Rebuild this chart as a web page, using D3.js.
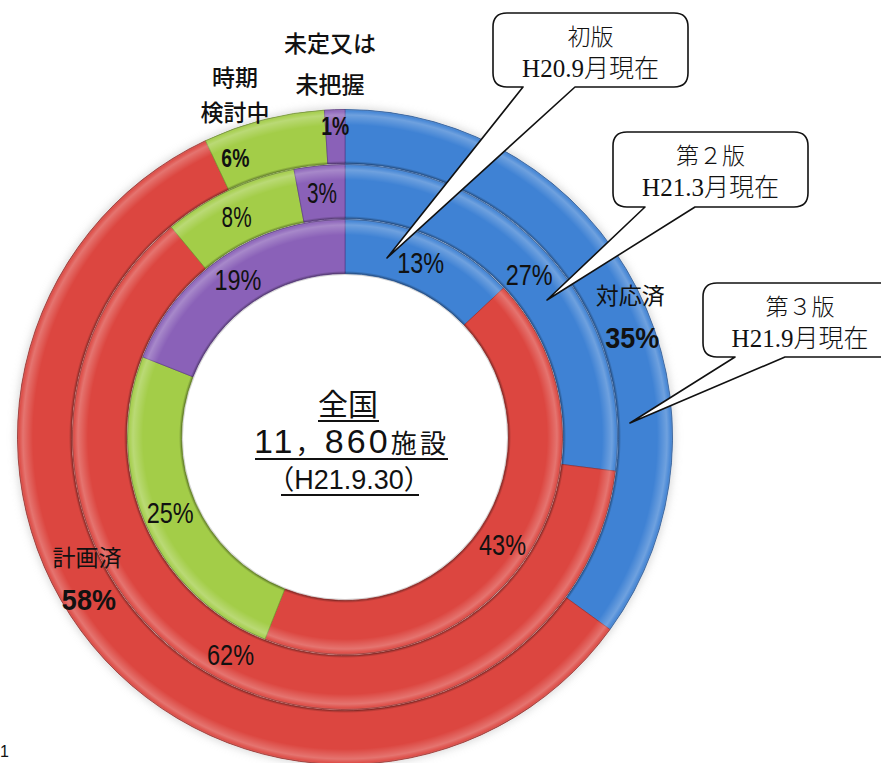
<!DOCTYPE html>
<html><head><meta charset="utf-8">
<script src="https://cdn.jsdelivr.net/npm/d3@7"></script>
<style>html,body{margin:0;padding:0;background:#fff;}svg{display:block;}</style>
</head><body>
<svg id="chart" width="881" height="763"></svg>
<script>
// ---- data ----
const categories = ["対応済", "計画済", "時期検討中", "未定又は未把握"];
const editions = ["初版", "第２版", "第３版"];
const editionDates = ["H20.9月現在", "H21.3月現在", "H21.9月現在"];
const ring1 = [13, 43, 25, 19];   // 初版 H20.9
const ring2 = [27, 62, 8, 3];     // 第２版 H21.3
const ring3 = [35, 58, 6, 1];     // 第３版 H21.9
const rings = [ring1, ring2, ring3];
const colors = ["#3f82d4", "#dc4640", "#a3cd48", "#8a61b8"];
const strokeColors = ["#2a5fa8", "#a8302c", "#7a9e30", "#633f8f"];
const centerLines = ["全国", "11，860施設", "（H21.9.30）"];

// ---- layout ----
const W = 881, H = 763, cx = 345, cy = 437;
const svg = d3.select("#chart");
const rScale = d3.scaleLinear().domain([0, rings.length]).range([163, 328]);
const pie = d3.pie().sort(null).value(d => d).startAngle(0).endAngle(2 * Math.PI);
const defs = svg.append("defs");

const f = defs.append("filter").attr("id", "shadow").attr("x", "-20%").attr("y", "-20%").attr("width", "140%").attr("height", "140%");
f.append("feGaussianBlur").attr("stdDeviation", 4);
const g = svg.append("g").attr("transform", `translate(${cx},${cy})`);
g.append("circle").attr("r", rScale(3) + 1).attr("fill", "#bbb").attr("opacity", 0.6).attr("filter", "url(#shadow)");
g.append("circle").attr("r", rScale(0) - 1).attr("fill", "#fff");

rings.forEach((vals, i) => {
  const r0 = rScale(i), r1 = rScale(i + 1);
  const arc = d3.arc().innerRadius(r0 + 0.5).outerRadius(r1 - 0.5);
  const arcs = pie(vals);
  const rg = g.append("g");
  rg.selectAll("path.seg").data(arcs).join("path").attr("class", "seg")
    .attr("d", arc).attr("fill", (d, j) => colors[j])
    .attr("stroke", (d, j) => strokeColors[j]).attr("stroke-width", 0.8);
  const gid = "bev" + i;
  const grad = defs.append("radialGradient").attr("id", gid)
    .attr("gradientUnits", "userSpaceOnUse").attr("cx", 0).attr("cy", 0).attr("r", r1);
  const stops = [
    [r0 / r1, "#000", 0.4], [(r0 + 3) / r1, "#000", 0.0], [(r1 - 16) / r1, "#fff", 0.0],
    [(r1 - 6) / r1, "#fff", 0.25], [(r1 - 2) / r1, "#fff", 0.05], [1, "#000", 0.4]
  ];
  stops.forEach(s => grad.append("stop").attr("offset", s[0]).attr("stop-color", s[1]).attr("stop-opacity", s[2]));
  rg.selectAll("path.bev").data(arcs).join("path").attr("class", "bev")
    .attr("d", arc).attr("fill", `url(#${gid})`);
});

// ---- value labels ----
const pctFont = "'Liberation Sans',Arial,sans-serif";
const angleShift = [[0, 0, 0, 0], [0, -1, -1, 0], [4, 11, -7, 0]];
const bigRadius = [310, 294];
rings.forEach((vals, i) => {
  const r0 = rScale(i), r1 = rScale(i + 1);
  const arcs = pie(vals);
  const isOuter = i === rings.length - 1;
  arcs.forEach((d, j) => {
    const a = (d.startAngle + d.endAngle) / 2 + angleShift[i][j] * Math.PI / 180;
    let r = (r0 + r1) / 2;
    const big = isOuter && j < 2;
    if (big) r = bigRadius[j];
    if (isOuter && j === 3) r = r1 - 16;
    const x = r * Math.sin(a), y = -r * Math.cos(a);
    const label = d.data + "%";
    if (big) {
      g.append("text").attr("x", x).attr("y", y - 12).attr("text-anchor", "middle")
        .attr("font-family", "'Noto Sans CJK JP',sans-serif").attr("font-size", 23).attr("fill", "#111")
        .text(categories[j]);
      g.append("text").attr("x", x + 2).attr("y", y + 32).attr("text-anchor", "middle")
        .attr("font-family", pctFont).attr("font-weight", "bold")
        .attr("font-size", 29).attr("fill", "#111")
        .attr("textLength", 54).attr("lengthAdjust", "spacingAndGlyphs").text(label);
    } else {
      const len = label.length === 2 ? 30 : 47;
      g.append("text").attr("x", x).attr("y", y).attr("dy", "0.36em").attr("text-anchor", "middle")
        .attr("font-family", pctFont).attr("font-size", isOuter ? 26 : 29)
        .attr("font-weight", isOuter ? "bold" : "normal").attr("fill", "#111")
        .attr("textLength", isOuter ? len - 2 : len).attr("lengthAdjust", "spacingAndGlyphs")
        .text(label);
    }
  });
});

// ---- outside category labels ----
const jp = "'Noto Sans CJK JP',sans-serif";
const outsideLabels = [
  { lines: ["時期", "検討中"], x: 235, ys: [86, 121] },
  { lines: ["未定又は", "未把握"], x: 330, ys: [52, 93] }
];
outsideLabels.forEach(l => l.lines.forEach((t, k) =>
  svg.append("text").attr("x", l.x).attr("y", l.ys[k]).attr("text-anchor", "middle")
    .attr("font-family", jp).attr("font-size", 23).attr("font-weight", 500).attr("fill", "#111").text(t)));

// ---- center text ----
svg.append("text").attr("x", cx + 3).attr("y", 415).attr("text-anchor", "middle")
  .attr("font-family", jp).attr("font-size", 30).attr("fill", "#111").text(centerLines[0]);
const t2 = svg.append("text").attr("x", cx + 5).attr("y", 453).attr("text-anchor", "middle").attr("fill", "#111")
  .attr("textLength", 192).attr("lengthAdjust", "spacing");
centerLines[1].match(/[0-9]+|[^0-9]+/g).forEach(run => {
  const isNum = /^[0-9]/.test(run);
  t2.append("tspan").attr("font-family", isNum ? "'Liberation Sans',sans-serif" : jp)
    .attr("font-size", isNum ? 34 : 26).text(run);
});
const t3 = svg.append("text").attr("x", cx + 4).attr("y", 489).attr("text-anchor", "middle").attr("fill", "#111");
centerLines[2].match(/[（）]|[^（）]+/g).forEach(run => {
  const isP = /[（）]/.test(run);
  t3.append("tspan").attr("font-family", isP ? jp : "'Liberation Sans',sans-serif")
    .attr("font-size", 27).text(run);
});
[[318, 379, 421], [255, 448, 459], [281, 419, 495]].forEach(u =>
  svg.append("line").attr("x1", u[0]).attr("x2", u[1]).attr("y1", u[2]).attr("y2", u[2])
    .attr("stroke", "#111").attr("stroke-width", 2));

// ---- callouts ----
function calloutPath(x0, y0, x1, y1, r, b0, b1, tx, ty) {
  return `M${x0 + r},${y0} H${x1 - r} Q${x1},${y0} ${x1},${y0 + r} V${y1 - r} Q${x1},${y1} ${x1 - r},${y1}` +
    ` H${b1} L${tx},${ty} L${b0},${y1} H${x0 + r} Q${x0},${y1} ${x0},${y1 - r} V${y0 + r} Q${x0},${y0} ${x0 + r},${y0} Z`;
}
const callouts = [
  { box: [493, 13, 688, 87], base: [523, 575], tip: [387, 258] },
  { box: [613, 132, 808, 207], base: [645, 695], tip: [547, 300] },
  { box: [703, 283, 897, 357], base: [735, 785], tip: [630, 423] }
];
callouts.forEach((c, k) => {
  const [x0, y0, x1, y1] = c.box;
  svg.append("path").attr("d", calloutPath(x0, y0, x1, y1, 14, c.base[0], c.base[1], c.tip[0], c.tip[1]))
    .attr("fill", "#fff").attr("stroke", "#111").attr("stroke-width", 1.6).attr("stroke-linejoin", "round");
  const mx = k === 2 ? 800 : (x0 + x1) / 2;
  svg.append("text").attr("x", mx).attr("y", y0 + 32).attr("text-anchor", "middle")
    .attr("font-family", "'Liberation Serif','Noto Sans CJK JP',serif").attr("font-size", 23).attr("font-weight", 300).attr("fill", "#111")
    .text(editions[k]);
  svg.append("text").attr("x", mx).attr("y", y0 + 64).attr("text-anchor", "middle")
    .attr("font-family", "'Liberation Serif','Noto Sans CJK JP',serif").attr("font-size", 25).attr("font-weight", 300).attr("fill", "#111")
    .text(editionDates[k]);
});

svg.append("text").attr("x", 0).attr("y", 757).attr("font-family", "'Liberation Sans',sans-serif").attr("font-size", 16).attr("fill", "#111").text("1");
</script>
</body></html>
